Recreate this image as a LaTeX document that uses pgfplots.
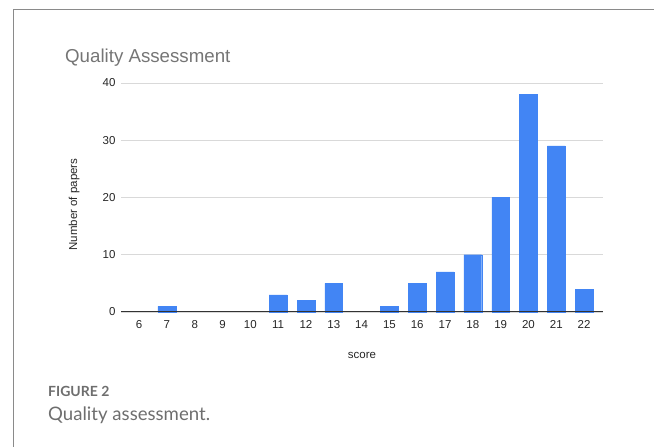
\documentclass[border=0pt]{standalone}
\usepackage{pgfplots}
\pgfplotsset{compat=1.18}
\usepackage{fontspec}
\setmainfont{Liberation Sans}
\newfontfamily\capfont{Lato}
\definecolor{barblue}{HTML}{4285F4}
\definecolor{titlegray}{HTML}{757575}
\definecolor{capgray}{HTML}{6E6E6E}
\definecolor{gridgray}{HTML}{D9D9D9}
\definecolor{framegray}{HTML}{8A8A8A}
\begin{document}
\begin{tikzpicture}
\useasboundingbox (0pt,0pt) rectangle (654pt,447pt);
\draw[framegray, line width=0.8pt] (13pt,0pt) -- (13pt,438pt) -- (654pt,438pt);
\node[anchor=base west, text=titlegray, font=\fontsize{18.7}{22}\selectfont, inner sep=0] at (65pt,384pt) {Quality Assessment};
\begin{axis}[
  at={(121pt,135pt)}, anchor=south west,
  scale only axis, width=482pt, height=229pt,
  xmin=5.35, xmax=22.68, ymin=0, ymax=40,
  xtick={6,...,22}, ytick={0,10,20,30,40},
  axis line style={draw=none},
  ymajorgrids, grid style={gridgray, line width=0.8pt},
  major tick length=0pt,
  tick label style={font=\fontsize{11.5}{13}\selectfont, text=black!85},
  /pgf/number format/assume math mode=true,
  xlabel={score}, ylabel={Number of papers},
  label style={font=\fontsize{11.5}{13}\selectfont, text=black!85},
  xlabel style={at={(axis description cs:0.5,0)}, anchor=north, yshift=-37pt},
  ylabel style={at={(axis description cs:0,0.5)}, anchor=south, xshift=-7pt, yshift=38pt},
  xticklabel style={yshift=-5pt},
  yticklabel style={xshift=-2pt},
  clip=false,
]
\addplot[ybar, bar width=0.64, fill=barblue, draw=barblue, bar shift=0pt] coordinates {
(7,1) (11,3) (12,2) (13,5) (15,1) (16,5) (17,7) (18,10) (19,20) (20,38) (21,29) (22,4)
};
\draw[black!80, line width=1pt] (axis cs:5.35,0) -- (axis cs:22.68,0);
\end{axis}
\node[anchor=base west, text=capgray, font=\capfont\bfseries\fontsize{14}{16}\selectfont, inner sep=0] at (48pt,50pt) {FIGURE 2};
\node[anchor=base west, text=capgray, font=\capfont\fontsize{18.6}{21}\selectfont, inner sep=0] at (48pt,26pt) {Quality assessment.};
\end{tikzpicture}
\end{document}
